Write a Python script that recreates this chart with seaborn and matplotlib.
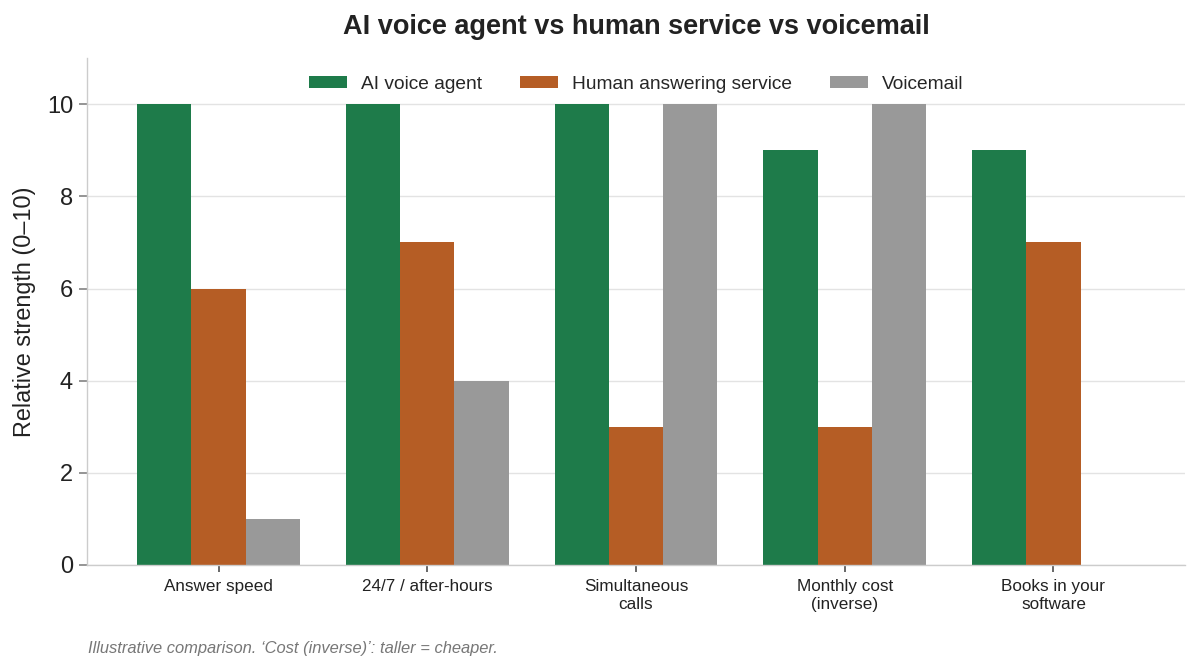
import matplotlib
matplotlib.use("Agg")
import matplotlib.pyplot as plt
import seaborn as sns
import pandas as pd

categories = ["Answer speed", "24/7 / after-hours", "Simultaneous\ncalls",
              "Monthly cost\n(inverse)", "Books in your\nsoftware"]
series_names = ["AI voice agent", "Human answering service", "Voicemail"]
ai_values = [10, 10, 10, 9, 9]
human_values = [6, 7, 3, 3, 7]
voicemail_values = [1, 4, 10, 10, 0]
colors = ["#1e7b4a", "#b55d25", "#999999"]

rows = []
for name, vals in zip(series_names, [ai_values, human_values, voicemail_values]):
    for c, v in zip(categories, vals):
        rows.append({"category": c, "series": name, "value": v})
df = pd.DataFrame(rows)

sns.set_theme(style="whitegrid")
plt.rcParams["font.family"] = ["Liberation Sans", "DejaVu Sans"]

fig = plt.figure(figsize=(12, 6.7), dpi=100)
ax = fig.add_axes([0.0725, 0.157, 0.915, 0.756])
sns.barplot(data=df, x="category", y="value", hue="series", palette=colors,
            order=categories, hue_order=series_names, width=0.78,
            saturation=1, linewidth=0, ax=ax)

ax.set_ylim(0, 11)
ax.set_xlim(-0.63, 4.63)
ax.set_yticks([0, 2, 4, 6, 8, 10])
ax.set_xlabel("")
ax.set_ylabel("Relative strength (0\u201310)", fontsize=16.8, color="#222222", labelpad=8)
ax.tick_params(axis="y", labelsize=17, length=6, color="#888888", left=True,
               labelcolor="#222222", pad=4)
ax.tick_params(axis="x", labelsize=12.3, length=5, color="#555555", bottom=True,
               labelcolor="#222222", pad=5)
for lbl in ax.get_xticklabels():
    lbl.set_linespacing(1.3)
ax.grid(axis="x", visible=False)
ax.grid(axis="y", color="#e3e3e3", linewidth=1)
for s in ["top", "right"]:
    ax.spines[s].set_visible(False)
for s in ["left", "bottom"]:
    ax.spines[s].set_color("#cccccc")
    ax.spines[s].set_linewidth(1)

ax.legend(loc="upper center", bbox_to_anchor=(0.5, 1.0), ncol=3, frameon=False,
          fontsize=13.8, handlelength=2.0, handleheight=0.65, columnspacing=2.0,
          handletextpad=0.7)

fig.suptitle("AI voice agent vs human service vs voicemail", fontsize=19.5,
             fontweight="bold", y=0.979, x=0.53, color="#222222")
fig.text(0.073, 0.025, "Illustrative comparison. \u2018Cost (inverse)\u2019: taller = cheaper.",
         fontsize=11.9, style="italic", color="#777777")

fig.savefig("out.png", dpi=100)
